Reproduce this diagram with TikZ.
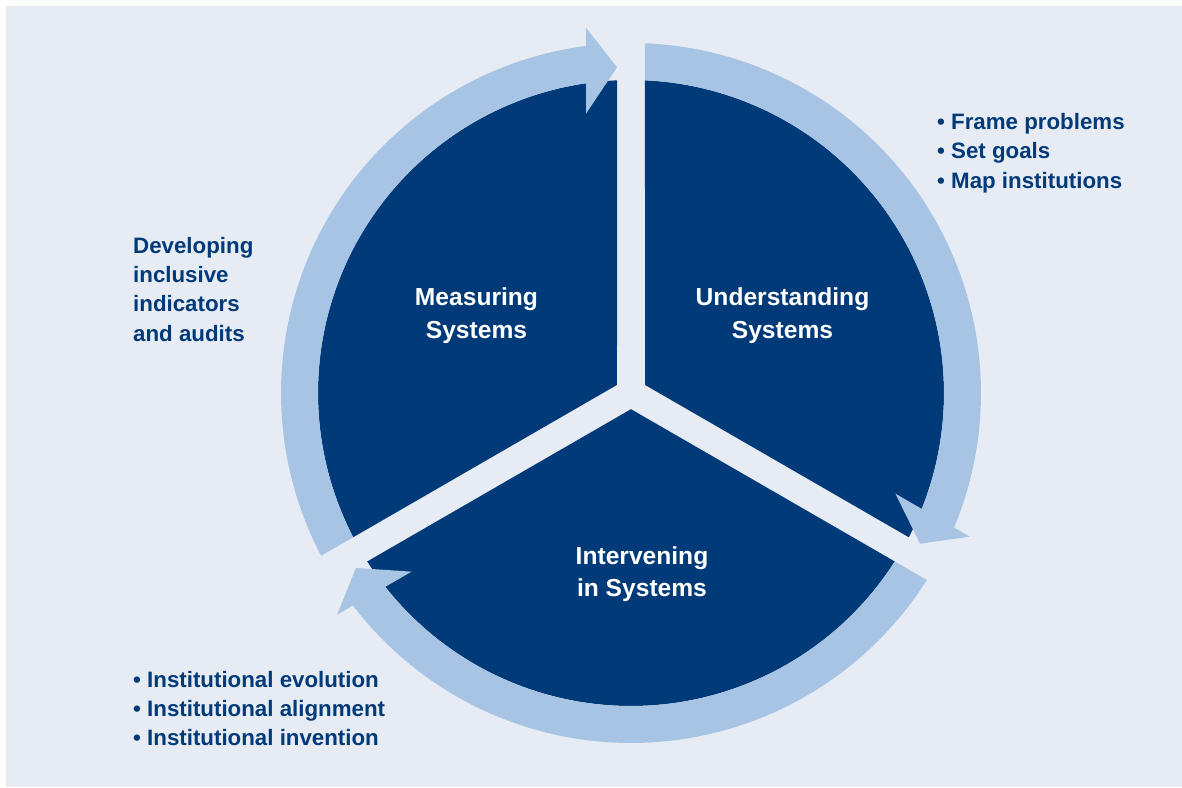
\documentclass[tikz,border=0pt]{standalone}
\usepackage{fontspec}
\setmainfont{Liberation Sans}
\definecolor{navy}{RGB}{0,58,120}
\definecolor{ringblue}{RGB}{167,196,229}
\definecolor{bgblue}{RGB}{231,236,244}
% sector between ray #1 and ray #1+120, gap half-width 14, radius 313
\newcommand\cyclesector[1]{%
  \fill[sector] ({#1+60}:16.17) -- ({#1+2.563}:313)
    arc[start angle={#1+2.563}, end angle={#1+120-2.563}, radius=313] -- cycle;}
% ring arrow: tail at ray #1, head at ray #1-120 (clockwise)
\newcommand\cyclearrow[1]{%
  \fill[ringarrow] ({#1-2.292}:350)
    arc[start angle={#1-2.292}, end angle={#1-120+7.387}, radius=350]
    -- ({#1-120+7.024}:368) -- ({#1-120+2.461}:326) -- ({#1-120+9.149}:283)
    -- ({#1-120+8.266}:313)
    arc[start angle={#1-120+8.266}, end angle={#1-2.563}, radius=313] -- cycle;}
\begin{document}
\begin{tikzpicture}[x=1pt,y=1pt,
  sector/.style={fill=navy},
  ringarrow/.style={fill=ringblue},
  whitelabel/.style={text=white, font=\fontsize{24.6}{32.5}\selectfont\bfseries, align=center, inner sep=0},
  darklabel/.style={text=navy, font=\fontsize{22.3}{29.3}\selectfont\bfseries, align=left, inner sep=0, anchor=west}]
\useasboundingbox (-631,-394) rectangle (551,393);
\fill[white] (-631,-394) rectangle (551,393);
\fill[bgblue] (-625,-394) rectangle (551,387);
% dark sectors
\cyclesector{-30}
\cyclesector{90}
\cyclesector{210}
% ring arrows
\cyclearrow{90}
\cyclearrow{-30}
\cyclearrow{210}
% labels
\node[whitelabel] (measuring) at (-154.5,77.5) {Measuring\\Systems};
\node[whitelabel] (understanding) at (151.5,77.5) {Understanding\\Systems};
\node[whitelabel] (intervening) at (11,-181) {Intervening\\in Systems};
\node[darklabel] (understandnotes) at (306,240) {• Frame problems\\• Set goals\\• Map institutions};
\node[darklabel] (measurenotes) at (-498,103.7) {Developing\\inclusive\\indicators\\and audits};
\node[darklabel] (intervenenotes) at (-498,-315.5) {• Institutional evolution\\• Institutional alignment\\• Institutional invention};
\end{tikzpicture}
\end{document}
